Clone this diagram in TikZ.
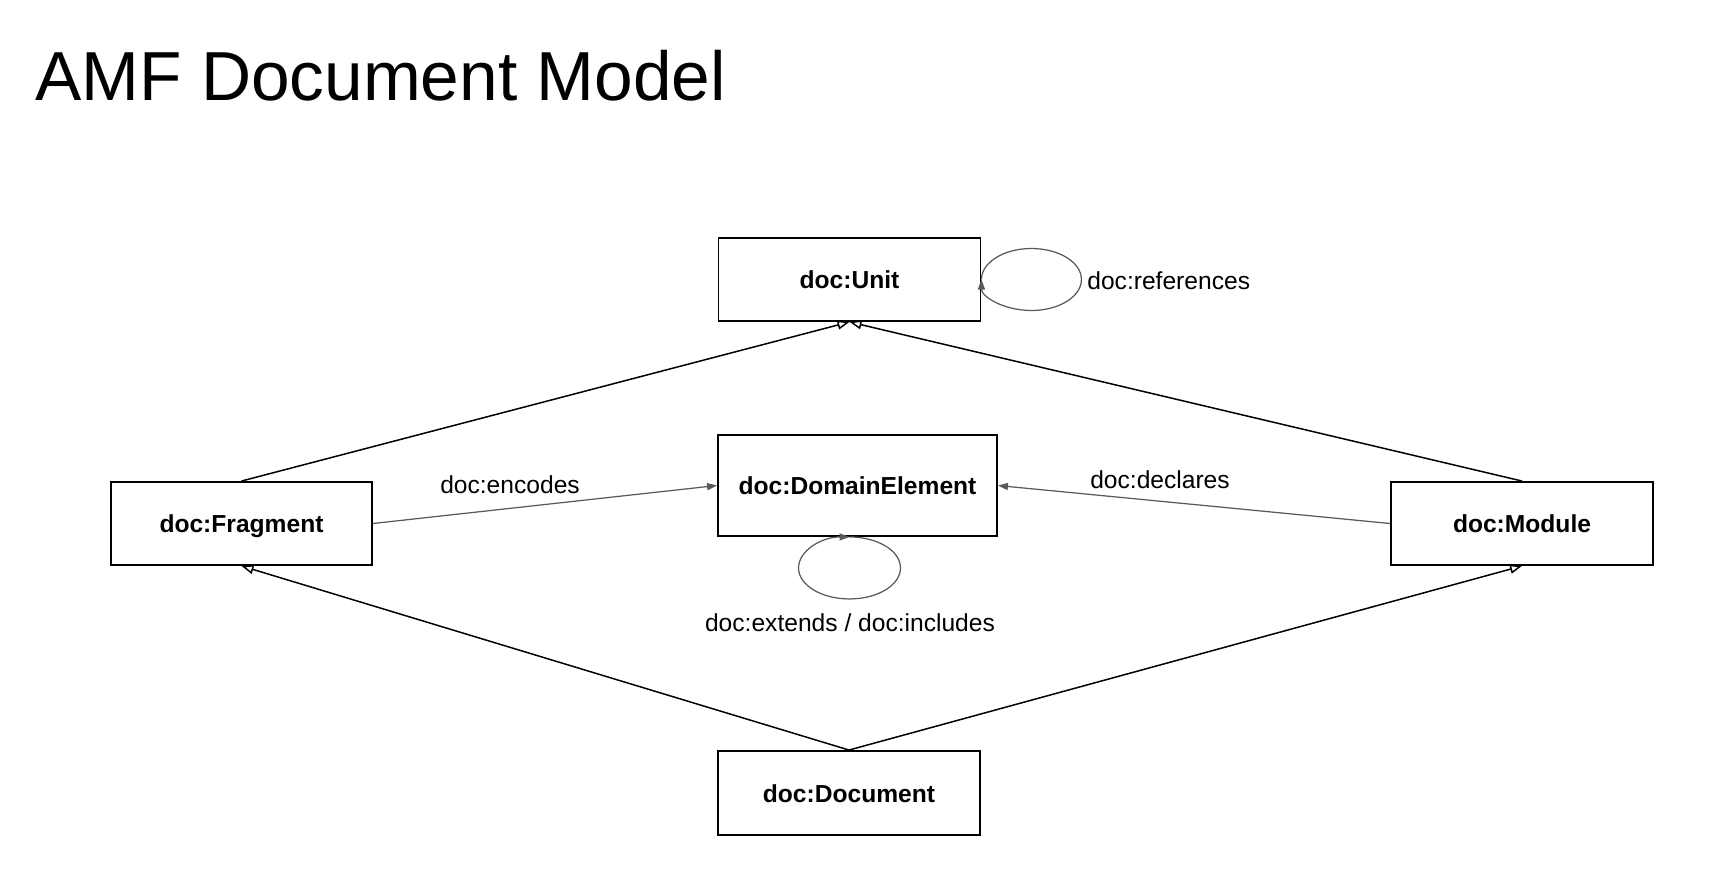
\documentclass[tikz,border=0pt]{standalone}
\usepackage{fontspec}
\setmainfont{Liberation Sans}
\usetikzlibrary{arrows.meta}
\begin{document}
\begin{tikzpicture}[
    x=0.02cm, y=-0.02cm,
    font=\fontsize{14}{17}\selectfont,
    cls/.style={draw=black, line width=1.1pt, fill=white, minimum width=5.24cm,
                minimum height=1.66cm, inner sep=0pt, text height=10.5pt, text depth=0pt,
                font=\fontsize{14}{17}\selectfont\bfseries},
    inherit/.style={draw=black, line width=0.85pt,
                    -{Triangle[open, length=0.24cm, width=0.18cm]}},
    rel/.style={draw=black!65, line width=0.7pt, -{Triangle[length=0.2cm, width=0.14cm]}},
    lbl/.style={inner sep=0pt},
  ]
  \useasboundingbox[fill=white] (0,0) rectangle (1725,893);
  % title
  \node[anchor=base west, inner sep=0pt, font=\fontsize{39.5}{47}\selectfont] (title) at (35,100) {AMF Document Model};
  % classes
  \node[cls] (unit) at (849.5,279.5) {doc:Unit};
  \node[cls, minimum width=5.58cm, minimum height=2.02cm] (domain) at (857.5,485.5) {doc:DomainElement};
  \node[cls, minimum width=5.22cm] (fragment) at (241.5,523.5) {doc:Fragment};
  \node[cls] (module) at (1522,523.5) {doc:Module};
  \node[cls, minimum height=1.68cm] (document) at (849,793) {doc:Document};
  % subclass links
  \draw[inherit] (fragment.north) -- (unit.south);
  \draw[inherit] (module.north) -- (unit.south);
  \draw[inherit] (document.north) -- (fragment.south);
  \draw[inherit] (document.north) -- (module.south);
  % properties
  \draw[rel] (fragment.east) -- (domain.west);
  \draw[rel] (module.west) -- (domain.east);
  \draw[rel] (unit.east) arc[start angle=180, end angle=-180, x radius=1.0cm, y radius=0.62cm];
  \draw[rel] ([xshift=-0.16cm]domain.south) arc[start angle=90, end angle=-270, x radius=1.02cm, y radius=0.62cm];
  \node[lbl] (encodes) at (510,485) {doc:encodes};
  \node[lbl] (declares) at (1160,480) {doc:declares};
  \node[lbl, anchor=west] (references) at (1087,281) {doc:references};
  \node[lbl] (extends) at (850,623) {doc:extends / doc:includes};
\end{tikzpicture}
\end{document}
